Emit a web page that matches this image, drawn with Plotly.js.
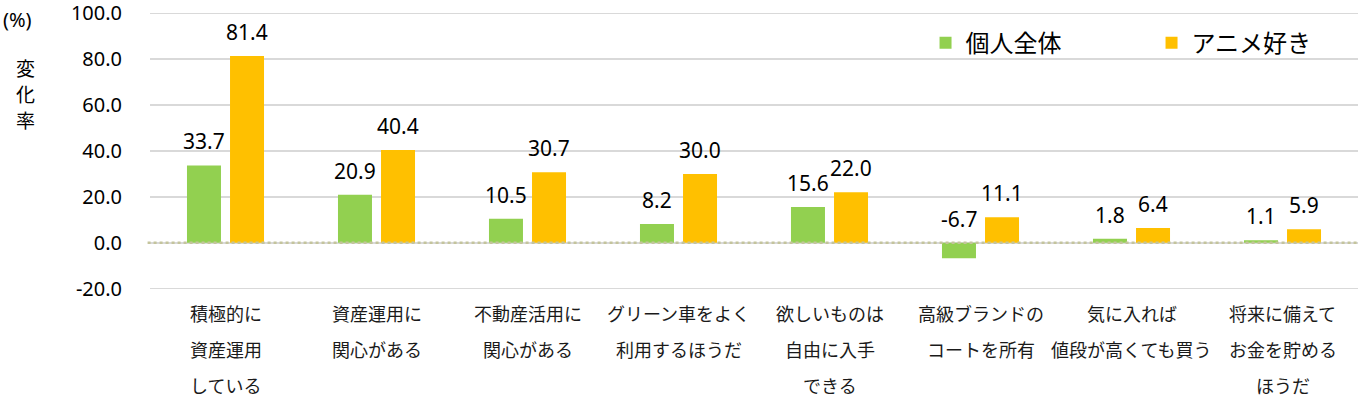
<!DOCTYPE html>
<html>
<head>
<meta charset="utf-8">
<script src="https://cdn.plot.ly/plotly-3.0.1.min.js"></script>
<style>html,body{margin:0;padding:0;background:#fff;}#chart{width:1360px;height:397px;}</style>
</head>
<body>
<div id="chart"></div>
<script>
// ---- data ----
const categories = ["c1","c2","c3","c4","c5","c6","c7","c8"];
const categoryLabels = [
  ["積極的に","資産運用","している"],
  ["資産運用に","関心がある"],
  ["不動産活用に","関心がある"],
  ["グリーン車をよく","利用するほうだ"],
  ["欲しいものは","自由に入手","できる"],
  ["高級ブランドの","コートを所有"],
  ["気に入れば","値段が高くても買う"],
  ["将来に備えて","お金を貯める","ほうだ"]
];
const seriesNames = ["個人全体","アニメ好き"];
const allPersons = [33.7, 20.9, 10.5, 8.2, 15.6, -6.7, 1.8, 1.1];
const animeFans  = [81.4, 40.4, 30.7, 30.0, 22.0, 11.1, 6.4, 5.9];
const yTicks = [-20, 0, 20, 40, 60, 80, 100];
const yTickLabels = ["-20.0", "0.0", "20.0", "40.0", "60.0", "80.0", "100.0"];
const yTitleChars = ["変","化","率"];
const yUnit = "(%)";

// ---- styles ----
const colors = ["#92D050", "#FFC000"];
const jp = '"Noto Sans CJK JP", "Noto Sans", sans-serif';
const num = '"Noto Sans", "Noto Sans CJK JP", sans-serif';

const series = [allPersons, animeFans];
const traces = series.map((vals, i) => ({
  type: 'bar',
  name: seriesNames[i],
  x: categories,
  y: vals,
  marker: {color: colors[i]},
  hoverinfo: 'none'
}));

const annotations = [];
// data labels
series.forEach((vals, i) => {
  vals.forEach((v, j) => {
    annotations.push({
      x: categories[j], xref: 'x',
      y: Math.max(v, 0), yref: 'y',
      text: v.toFixed(1),
      showarrow: false,
      xanchor: 'center', yanchor: 'bottom',
      xshift: i === 0 ? -21.5 : 21.5,
      yshift: 8,
      font: {family: num, size: 21, color: '#000'}
    });
  });
});
// category labels
categoryLabels.forEach((lines, j) => {
  lines.forEach((line, k) => {
    annotations.push({
      x: categories[j], xref: 'x',
      y: 0, yref: 'paper',
      text: line,
      showarrow: false,
      xanchor: 'center', yanchor: 'middle',
      yshift: -22 - k * 36,
      font: {family: jp, size: 18, color: '#1a1a1a'}
    });
  });
});
// y-axis title
annotations.push({
  x: 0, xref: 'paper', xanchor: 'left', xshift: -149,
  y: 1, yref: 'paper', yanchor: 'middle', yshift: -8,
  text: yUnit, showarrow: false,
  font: {family: num, size: 20, color: '#000'}
});
yTitleChars.forEach((ch, k) => {
  annotations.push({
    x: 0, xref: 'paper', xanchor: 'center', xshift: -125,
    y: 1, yref: 'paper', yanchor: 'middle', yshift: -56 - k * 26,
    text: ch, showarrow: false,
    font: {family: jp, size: 19, color: '#000'}
  });
});

const layout = {
  width: 1360, height: 397,
  margin: {l: 150, r: 2, t: 11, b: 106, autoexpand: false},
  paper_bgcolor: '#fff', plot_bgcolor: '#fff',
  barmode: 'group', bargap: 0.43, bargroupgap: 0.21,
  showlegend: true,
  legend: {
    orientation: 'h', x: 0.642, xanchor: 'left', y: 0.885, yanchor: 'middle',
    font: {family: jp, size: 24, color: '#000'},
    entrywidth: 181, itemwidth: 30, bgcolor: 'rgba(0,0,0,0)',
    traceorder: 'normal'
  },
  xaxis: {
    type: 'category', showticklabels: false, showgrid: false,
    zeroline: false, showline: false, ticks: ''
  },
  yaxis: {
    range: [-21, 101], tickmode: 'array', tickvals: yTicks, ticktext: yTickLabels,
    showgrid: true, gridcolor: '#d9d9d9', gridwidth: 1.5,
    zeroline: false, showline: false, ticks: '',
    ticklabelstandoff: 27, ticklabeloverflow: 'allow',
    tickfont: {family: num, size: 20, color: '#000'}
  },
  shapes: [{
    type: 'line', xref: 'paper', x0: -0.002, x1: 1, yref: 'y', y0: 0, y1: 0,
    line: {color: '#c4c49c', width: 2.5, dash: 'dot'}
  }],
  annotations: annotations
};

Plotly.newPlot('chart', traces, layout, {staticPlot: true, displayModeBar: false});
</script>
</body>
</html>
